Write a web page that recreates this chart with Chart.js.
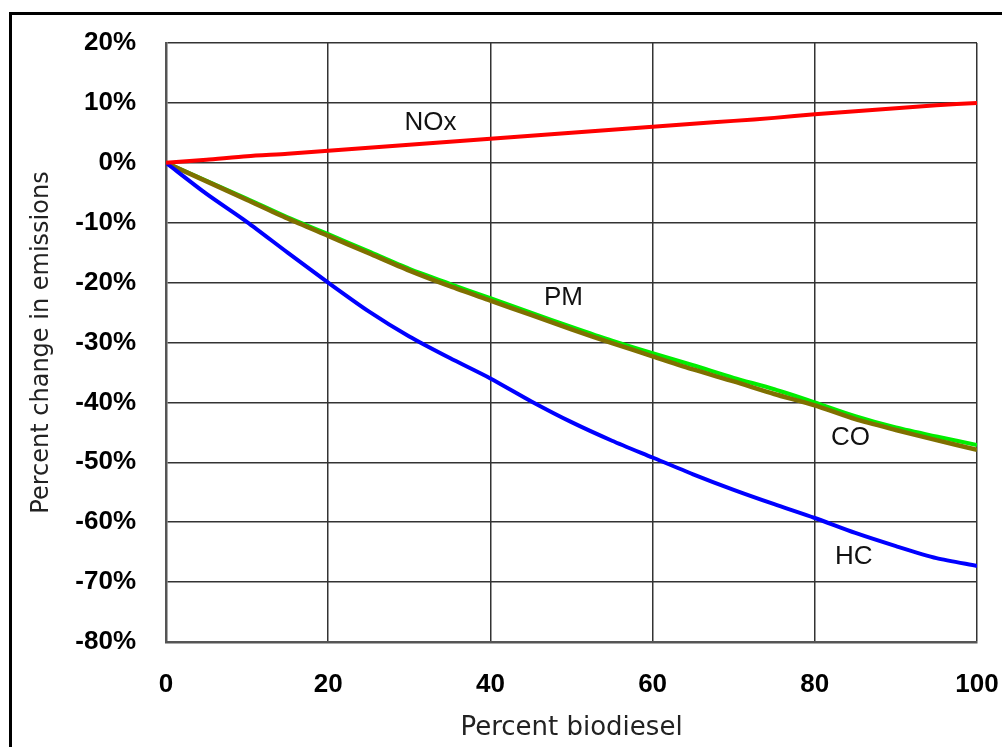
<!DOCTYPE html>
<html>
<head>
<meta charset="utf-8">
<title>Percent change in emissions vs percent biodiesel</title>
<script src="https://cdn.jsdelivr.net/npm/chart.js@4.4.1/dist/chart.umd.min.js"></script>
<style>
    body { margin: 0; background: #fff; overflow: hidden; }
    #wrap { position: relative; width: 1002px; height: 747px; }
    #frame {
        position: absolute; left: 9px; top: 12px; width: 1100px; height: 800px;
        border-left: 3px solid #000; border-top: 3px solid #000;
    }
    #chart { position: absolute; left: 0; top: 0; }
</style>
</head>
<body>
<div id="wrap">
    <div id="frame"></div>
    <canvas id="chart" width="1002" height="747"></canvas>
</div>
<script>
// --- Datos ---
const biodiesel = [0, 5, 10, 15, 20, 25, 30, 35, 40, 45, 50, 55, 60, 65, 70, 75, 80, 85, 90, 95, 100];
const nox = [0, 0.5, 1.1, 1.5, 2, 2.5, 3, 3.5, 4, 4.5, 5, 5.5, 6, 6.5, 7, 7.5, 8.1, 8.6, 9.1, 9.6, 10];
const hc  = [0, -5.2, -9.9, -15, -20, -24.8, -29, -32.6, -36, -39.8, -43.3, -46.4, -49.2, -52, -54.6, -57, -59.3, -61.8, -64, -66, -67.3];
const pm  = [0, -3, -6, -9.1, -11.9, -14.8, -17.7, -20.2, -22.6, -25, -27.4, -29.7, -31.8, -33.8, -35.9, -37.8, -40, -42.3, -44.2, -45.7, -47.1];
const co  = [0, -3.1, -6.2, -9.3, -12.2, -15.1, -18, -20.6, -23, -25.4, -27.8, -30.1, -32.3, -34.5, -36.5, -38.6, -40.5, -42.8, -44.6, -46.3, -47.9];

// etiquetas de las curvas: [texto, x, y]
const curveLabels = [
    ['NOx', 32.6, 6.7],
    ['PM', 49, -22.6],
    ['CO', 84.4, -45.9],
    ['HC', 84.8, -65.7]
];

const toPoints = (ys) => ys.map((y, i) => ({ x: biodiesel[i], y: y }));

// plugin para escribir el nombre de cada curva
const curveLabelPlugin = {
    id: 'curveLabels',
    afterDatasetsDraw(chart) {
        const ctx = chart.ctx;
        const xs = chart.scales.x;
        const ys = chart.scales.y;
        ctx.save();
        ctx.font = '26px "Liberation Sans", Arial, sans-serif';
        ctx.fillStyle = '#111';
        ctx.textAlign = 'center';
        ctx.textBaseline = 'middle';
        curveLabels.forEach(([txt, x, y]) => {
            ctx.fillText(txt, xs.getPixelForValue(x), ys.getPixelForValue(y));
        });
        ctx.restore();
    }
};

const tickFont = { family: '"Liberation Sans", Arial, sans-serif', size: 26, weight: 'bold' };

new Chart(document.getElementById('chart').getContext('2d'), {
    type: 'line',
    data: {
        datasets: [
            { label: 'NOx', data: toPoints(nox), borderColor: '#ff0000', borderWidth: 4, order: 1 },
            { label: 'HC', data: toPoints(hc), borderColor: '#0000ff', borderWidth: 4, order: 2 },
            { label: 'CO', data: toPoints(co), borderColor: '#7f7000', borderWidth: 4.5, order: 3 },
            { label: 'PM', data: toPoints(pm), borderColor: '#00ee00', borderWidth: 4, order: 4 }
        ]
    },
    options: {
        responsive: false,
        devicePixelRatio: 1,
        animation: false,
        layout: { padding: { left: 18, top: 43, right: 25, bottom: 0 } },
        elements: {
            point: { radius: 0 },
            line: { tension: 0.25, fill: false }
        },
        plugins: {
            legend: { display: false },
            tooltip: { enabled: false }
        },
        scales: {
            x: {
                type: 'linear',
                min: 0,
                max: 100,
                ticks: { stepSize: 20, font: tickFont, color: '#000', padding: 27 },
                grid: { color: '#333', lineWidth: 1.5, drawTicks: false },
                border: { color: '#555', width: 2.5 },
                title: {
                    display: true, text: 'Percent biodiesel', color: '#222',
                    font: { family: '"DejaVu Sans", sans-serif', size: 26 },
                    padding: { top: 0, bottom: 3 }
                },
                afterFit(scale) {
                    scale.height = 105;
                    // las etiquetas pueden salir del área, sin reservar espacio extra
                    scale.paddingLeft = 0;
                    scale.paddingRight = 0;
                }
            },
            y: {
                min: -80,
                max: 20,
                ticks: {
                    stepSize: 10,
                    font: tickFont,
                    color: '#000',
                    padding: 30,
                    callback: (v) => v + '%'
                },
                grid: { color: '#333', lineWidth: 1.5, drawTicks: false },
                border: { color: '#555', width: 2.5 },
                title: {
                    display: true, text: 'Percent change in emissions', color: '#222',
                    font: { family: '"DejaVu Sans", sans-serif', size: 24 },
                    padding: { top: 9, bottom: 0 }
                },
                afterFit(scale) {
                    scale.width = 148;
                    scale.paddingTop = 0;
                    scale.paddingBottom = 0;
                }
            }
        }
    },
    plugins: [curveLabelPlugin]
});
</script>
</body>
</html>
